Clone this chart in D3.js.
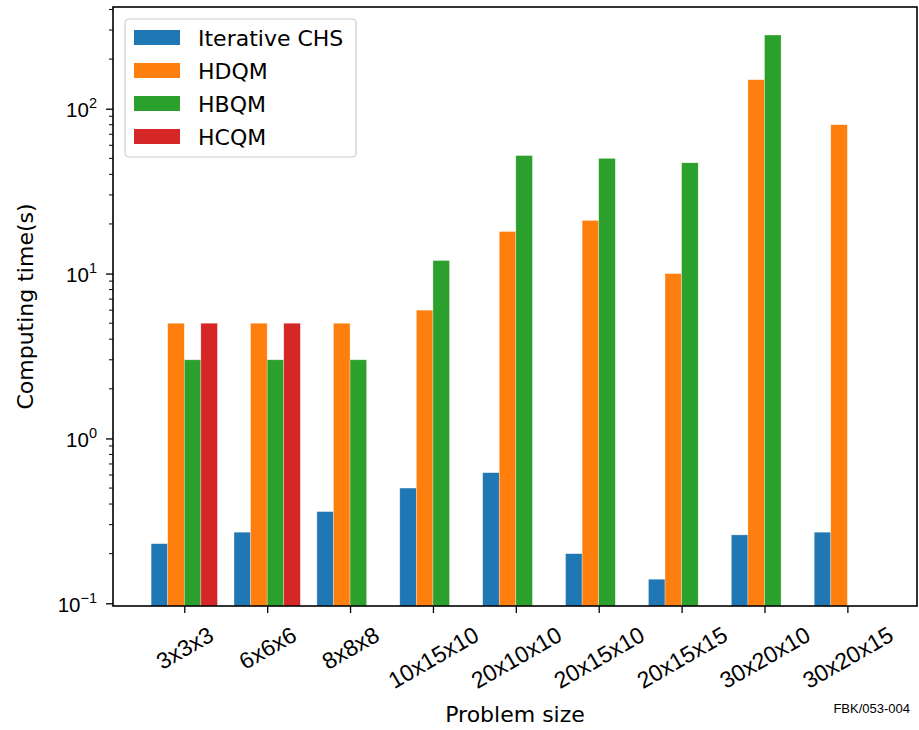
<!DOCTYPE html>
<html>
<head>
<meta charset="utf-8">
<script src="https://cdn.jsdelivr.net/npm/d3@7"></script>
<style>
  body { margin: 0; background: #fff; }
  svg { font-family: "DejaVu Sans", sans-serif; }
</style>
</head>
<body>
<div id="chart"></div>
<script>
const categories = ["3x3x3", "6x6x6", "8x8x8", "10x15x10", "20x10x10", "20x15x10", "20x15x15", "30x20x10", "30x20x15"];
const seriesNames = ["Iterative CHS", "HDQM", "HBQM", "HCQM"];
const iterativeCHS = [0.23, 0.27, 0.36, 0.5, 0.62, 0.2, 0.14, 0.26, 0.27];
const hdqm = [5, 5, 5, 6, 18, 21, 10, 150, 80];
const hbqm = [3, 3, 3, 12, 52, 50, 47, 280, null];
const hcqm = [5, 5, null, null, null, null, null, null, null];
const colors = ["#1f77b4", "#ff7f0e", "#2ca02c", "#d62728"];
const yTickValues = [0.1, 1, 10, 100];

const W = 919, H = 730;
const mLeft = 113, mRight = 917, mTop = 7, mBottom = 606;
const fontSize = 22;
const tickFont = 23;

const svg = d3.select("#chart").append("svg")
  .attr("width", W).attr("height", H);

const x = d3.scaleLinear().domain([-0.86, 8.84]).range([mLeft, mRight]);
const y = d3.scaleLog().domain([0.0963, 414]).range([mBottom, mTop]);

const series = [iterativeCHS, hdqm, hbqm, hcqm];
const barW = 0.2;

series.forEach((vals, si) => {
  const offset = -0.4 + si * barW;
  svg.append("g")
    .selectAll("rect")
    .data(vals.map((v, i) => ({ v, i })).filter(d => d.v != null))
    .join("rect")
    .attr("x", d => x(d.i + offset))
    .attr("width", d => x(d.i + offset + barW) - x(d.i + offset))
    .attr("y", d => y(d.v))
    .attr("height", d => mBottom - y(d.v))
    .attr("fill", colors[si])
    .attr("stroke", "#fff")
    .attr("stroke-opacity", 0.5)
    .attr("stroke-width", 0.6);
});

// y axis
const yAxis = d3.axisLeft(y)
  .tickValues(yTickValues)
  .tickSize(7)
  .tickFormat(() => "");
const gy = svg.append("g").attr("transform", `translate(${mLeft},0)`).call(yAxis);
gy.select(".domain").remove();
gy.selectAll(".tick line").attr("stroke", "#000").attr("stroke-width", 1.3);
gy.selectAll(".tick").each(function (d) {
  const t = d3.select(this).append("text")
    .attr("x", -16).attr("y", 8)
    .attr("text-anchor", "end")
    .attr("fill", "#000")
    .attr("font-size", 20.5);
  const e = Math.round(Math.log10(d));
  t.append("tspan").text("10");
  t.append("tspan").attr("dy", -9).attr("font-size", 14.5).text(e < 0 ? "\u2212" + (-e) : e);
});

// minor ticks
const minor = [];
for (let e = -2; e <= 2; e++) {
  for (let k = 2; k <= 9; k++) {
    const v = k * Math.pow(10, e);
    if (v >= y.domain()[0] && v <= y.domain()[1]) minor.push(v);
  }
}
svg.append("g").selectAll("line").data(minor).join("line")
  .attr("x1", mLeft - 4).attr("x2", mLeft)
  .attr("y1", d => y(d)).attr("y2", d => y(d))
  .attr("stroke", "#000").attr("stroke-width", 1);

// x axis
const xAxis = d3.axisBottom(x)
  .tickValues(d3.range(categories.length))
  .tickSize(7)
  .tickFormat(() => "");
const gx = svg.append("g").attr("transform", `translate(0,${mBottom})`).call(xAxis);
gx.select(".domain").remove();
gx.selectAll(".tick line").attr("stroke", "#000").attr("stroke-width", 1.3);
// rotated labels: top of the rotated box sits at a fixed line, centred on the tick
const labelTop = 621 - mBottom;
const s30 = Math.sin(Math.PI / 6), c30 = Math.cos(Math.PI / 6);
gx.selectAll(".tick").append("text")
  .attr("fill", "#000")
  .attr("font-size", tickFont)
  .attr("text-anchor", "middle")
  .attr("dominant-baseline", "central")
  .text(d => categories[d])
  .attr("transform", function () {
    const L = this.getComputedTextLength();
    const h = tickFont * 1.16;
    const cy = labelTop + (L / 2) * s30 + (h / 2) * c30;
    return `translate(0,${cy}) rotate(-30)`;
  });

// frame
svg.append("rect")
  .attr("x", mLeft).attr("y", mTop)
  .attr("width", mRight - mLeft).attr("height", mBottom - mTop)
  .attr("fill", "none").attr("stroke", "#000").attr("stroke-width", 1.6);

// axis labels
svg.append("text")
  .attr("transform", `translate(33,${(mTop + mBottom) / 2}) rotate(-90)`)
  .attr("text-anchor", "middle")
  .attr("font-size", fontSize)
  .text("Computing time(s)");
svg.append("text")
  .attr("x", (mLeft + mRight) / 2).attr("y", 722)
  .attr("text-anchor", "middle")
  .attr("font-size", fontSize)
  .text("Problem size");
svg.append("text")
  .attr("x", 910).attr("y", 713)
  .attr("text-anchor", "end")
  .attr("font-family", "'Liberation Sans', Arial, sans-serif")
  .attr("font-size", 13)
  .text("FBK/053-004");

// legend
const lg = svg.append("g").attr("transform", "translate(125,19)");
lg.append("rect")
  .attr("width", 231).attr("height", 138)
  .attr("rx", 4)
  .attr("fill", "#fff").attr("fill-opacity", 0.8)
  .attr("stroke", "#ccc").attr("stroke-width", 1.2);
seriesNames.forEach((name, i) => {
  const g = lg.append("g").attr("transform", `translate(9,${18.5 + i * 33})`);
  g.append("rect")
    .attr("x", 0).attr("y", -7.5)
    .attr("width", 46).attr("height", 15)
    .attr("fill", colors[i]);
  g.append("text")
    .attr("x", 64).attr("y", 1)
    .attr("dominant-baseline", "central")
    .attr("font-size", fontSize)
    .text(name);
});
</script>
</body>
</html>
